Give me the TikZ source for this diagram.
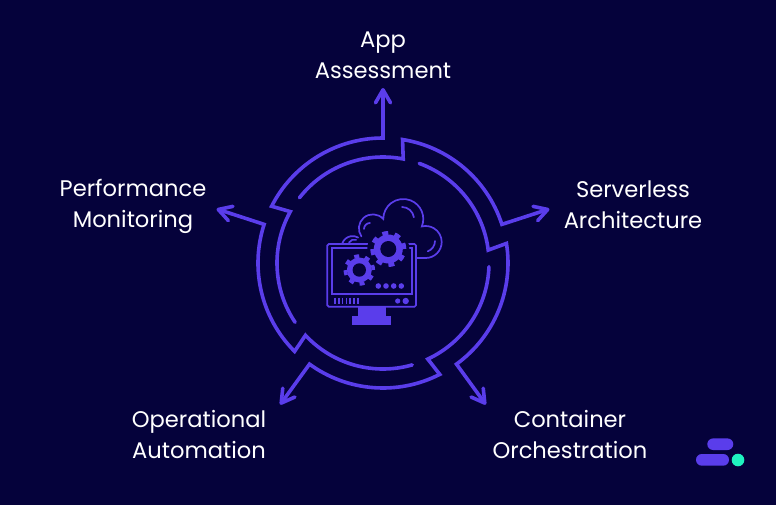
\documentclass[tikz,border=0pt]{standalone}
\usepackage{fontspec}
\setmainfont{Poppins}
\usetikzlibrary{arrows.meta}
\definecolor{night}{HTML}{05023B}
\definecolor{violet}{HTML}{5A3DEB}
\definecolor{mint}{HTML}{1FF2C0}

\begin{document}
\begin{tikzpicture}[x=1pt,y=1pt]
\tikzstyle{label} = [text=white, font=\fontsize{22.6}{31}\selectfont, align=center]
\tikzstyle{ring} = [draw=violet, line width=3.6pt, line cap=round, miter limit=10]
\tikzstyle{pointer} = [ring, {Straight Barb[length=13pt,width=15pt,line width=3.6pt,round]}-]
\tikzstyle{thin} = [draw=violet, line width=1.7pt, line cap=round]
\tikzstyle{solid} = [fill=violet, draw=none]
\tikzstyle{dot} = [solid, circle, inner sep=0pt]
\tikzstyle{teeth} = [circle, draw=violet, inner sep=0pt]

\useasboundingbox (-383,-241) rectangle (393,263);
\fill[night] (-385,-243) rectangle (395,265);

\node[label] (app) at (0,208.2) {App\\Assessment};
\node[label] (serverless) at (250,58) {Serverless\\Architecture};
\node[label] (container) at (187,-171.5) {Container\\Orchestration};
\node[label] (operational) at (-184,-171.5) {Operational\\Automation};
\node[label] (performance) at (-250,57) {Performance\\Monitoring};

\coordinate (tip1) at (90:175);
\coordinate (tip2) at (18:175);
\coordinate (tip3) at (306:175);
\coordinate (tip4) at (234:175);
\coordinate (tip5) at (162:175);
\coordinate (base1) at (90:125);
\coordinate (base2) at (18:125);
\coordinate (base3) at (306:125);
\coordinate (base4) at (234:125);
\coordinate (base5) at (162:125);

\draw[pointer] (tip1) -- (base1) arc[start angle=90,end angle=153,radius=125] -- (151:106) arc[start angle=151,end angle=214,radius=106];
\draw[pointer] (tip5) -- (base5) arc[start angle=162,end angle=225,radius=125] -- (223:106) arc[start angle=223,end angle=286,radius=106];
\draw[pointer] (tip4) -- (base4) arc[start angle=234,end angle=297,radius=125] -- (295:106) arc[start angle=295,end angle=358,radius=106];
\draw[pointer] (tip3) -- (base3) arc[start angle=306,end angle=369,radius=125] -- (367:106) arc[start angle=367,end angle=430,radius=106];
\draw[pointer] (tip2) -- (base2) arc[start angle=18,end angle=81,radius=125] -- (79:106) arc[start angle=79,end angle=142,radius=106];

\draw[thin] (33,5) -- (42.7,5) arc[start angle=-90,end angle=104,radius=16] arc[start angle=-22,end angle=180,radius=20] arc[start angle=42,end angle=215,radius=14];
\draw[thin] (-40.7,19.7) arc[start angle=160,end angle=60,radius=11];
\draw[thin] (-34,20.5) arc[start angle=150,end angle=70,radius=6];
\draw[thin] (19,56) arc[start angle=90,end angle=8,radius=12];
\draw[thin] (52,22) arc[start angle=0,end angle=-70,radius=11];
\draw[thin] (-19,34) arc[start angle=180,end angle=90,radius=6];

\draw[thin,rounded corners=1.5pt] (-55.7,-43.7) rectangle (33,19);
\draw[thin] (-51.3,-31.3) rectangle (28.7,15);
\fill[solid] (-24.7,-44) rectangle (2.7,-53);
\fill[solid] (-30.7,-52.7) rectangle (8,-62);

\draw[thin,line cap=butt] (-48,-34.7) -- (-48,-41.3);
\draw[thin,line cap=butt] (-44.2,-34.7) -- (-44.2,-41.3);
\draw[thin,line cap=butt] (-40.4,-34.7) -- (-40.4,-41.3);
\draw[thin,line cap=butt] (-36.6,-34.7) -- (-36.6,-41.3);
\draw[thin,line cap=butt] (-32.8,-34.7) -- (-32.8,-41.3);
\draw[thin,line cap=butt] (-29,-34.7) -- (-29,-41.3);
\draw[thin,line cap=butt] (-25.2,-34.7) -- (-25.2,-41.3);

\node[dot,minimum size=5.2pt] (led1) at (14.7,-38) {};
\node[dot,minimum size=6.4pt] (led2) at (22.7,-38) {};
\node[dot,minimum size=5.6pt] (btn1) at (-4.7,-23) {};
\node[dot,minimum size=5.6pt] (btn2) at (3,-23) {};
\node[dot,minimum size=5.6pt] (btn3) at (10.7,-23) {};
\node[dot,minimum size=5.6pt] (btn4) at (18.3,-23) {};

\fill[night] (5.3,14) circle (21);
\node[teeth,minimum size=32pt,line width=4pt,dash pattern=on 6pt off 6.57pt] (gear1) at (5.3,14) {};
\node[dot,minimum size=29pt] (hub1) at (5.3,14) {};
\fill[night] (hub1) circle (8);
\node[teeth,minimum size=28pt,line width=3.5pt,dash pattern=on 5pt off 6pt] (gear2) at (-23.7,-7) {};
\node[dot,minimum size=25pt] (hub2) at (-23.7,-7) {};
\fill[night] (hub2) circle (6.7);

\fill[violet,rounded corners=5.8pt] (324.3,-187) rectangle (350.3,-175.4);
\fill[violet,rounded corners=5.8pt] (313,-202.7) rectangle (346,-191);
\node[circle,fill=mint,inner sep=0pt,minimum size=12.6pt] (mintdot) at (355,-197) {};
\end{tikzpicture}
\end{document}
